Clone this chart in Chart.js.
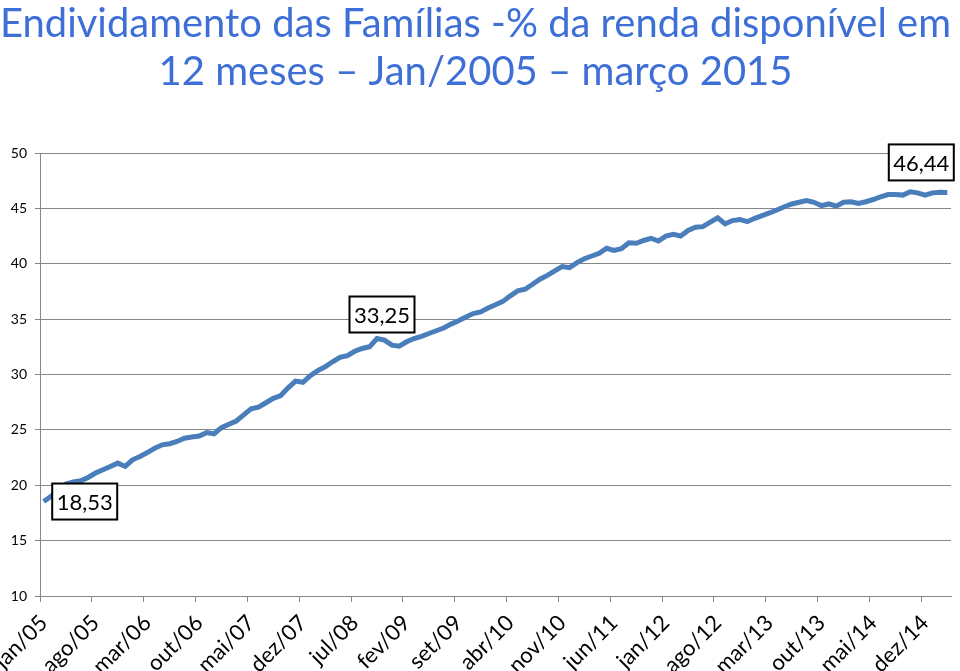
<!DOCTYPE html>
<html>
<head>
<meta charset="utf-8">
<script src="https://cdn.jsdelivr.net/npm/chart.js@4.4.1/dist/chart.umd.min.js"></script>
<style>
  html, body { margin: 0; padding: 0; background: #fff; }
  #wrap { width: 960px; height: 671px; position: relative; }
</style>
</head>
<body>
<div id="wrap"><canvas id="debt-chart"></canvas></div>
<script>
// Month names (pt-BR) and years used to build the monthly categories jan/05 .. mar/15
const monthNames = ['jan', 'fev', 'mar', 'abr', 'mai', 'jun', 'jul', 'ago', 'set', 'out', 'nov', 'dez'];
const years = ['05', '06', '07', '08', '09', '10', '11', '12', '13', '14', '15'];
const lastMonthOf2015 = 3;

// Endividamento (% da renda disponível em 12 meses)
const debtValues = [
  18.53, 19.0, 19.6, 20.1, 20.3, 20.4, 20.7, 21.1, 21.4, 21.7, 22.0, 21.7,
  22.3, 22.6, 22.95, 23.35, 23.65, 23.75, 23.95, 24.25, 24.35, 24.45, 24.75, 24.65,
  25.2, 25.5, 25.8, 26.35, 26.9, 27.05, 27.45, 27.85, 28.1, 28.8, 29.4, 29.3,
  29.9, 30.35, 30.7, 31.15, 31.55, 31.7, 32.1, 32.35, 32.5, 33.25, 33.1, 32.65,
  32.55, 32.95, 33.25, 33.45, 33.7, 33.95, 34.2, 34.55, 34.85, 35.2, 35.5, 35.65,
  36.0, 36.3, 36.6, 37.1, 37.55, 37.7, 38.15, 38.6, 38.95, 39.35, 39.75, 39.65,
  40.1, 40.45, 40.7, 40.95, 41.4, 41.2, 41.35, 41.9, 41.85, 42.1, 42.3, 42.05,
  42.5, 42.65, 42.5, 43.0, 43.3, 43.35, 43.75, 44.15, 43.6, 43.9, 44.0, 43.8,
  44.1, 44.35, 44.6, 44.85, 45.15, 45.4, 45.55, 45.7, 45.55, 45.25, 45.4, 45.2,
  45.55, 45.6, 45.45, 45.6, 45.8, 46.05, 46.25, 46.25, 46.2, 46.5, 46.4, 46.2,
  46.4, 46.45, 46.44
];

// Points that carry a boxed value label
const labelledIndexes = [0, 45, 122];

// y axis ticks
const yMin = 10;
const yMax = 50;
const yStep = 5;

// every 7th month gets a tick label
const labelEvery = 7;

const categories = [];
years.forEach(yy => {
  monthNames.forEach((m, mi) => {
    if (yy === '15' && mi >= lastMonthOf2015) return;
    categories.push(m + '/' + yy);
  });
});

const fontFamily = 'Lato, "Open Sans", sans-serif';

// boxed value labels, offsets of the box centre from the point
const boxOffsets = {
  0: { dx: 41, dy: 0 },
  45: { dx: 5, dy: -24 },
  122: { dx: -26, dy: -30 }
};

const boxLabelPlugin = {
  id: 'boxLabels',
  afterDatasetsDraw(chart) {
    const ctx = chart.ctx;
    const meta = chart.getDatasetMeta(0);
    ctx.save();
    ctx.font = '22px ' + fontFamily;
    ctx.textAlign = 'center';
    ctx.textBaseline = 'middle';
    labelledIndexes.forEach(i => {
      const pt = meta.data[i];
      const off = boxOffsets[i] || { dx: 0, dy: -25 };
      const text = debtValues[i].toFixed(2).replace('.', ',');
      const w = 65, h = 36;
      const cx = pt.x + off.dx, cy = pt.y + off.dy;
      ctx.fillStyle = '#fff';
      ctx.fillRect(cx - w / 2, cy - h / 2, w, h);
      ctx.lineWidth = 2;
      ctx.strokeStyle = '#000';
      ctx.strokeRect(cx - w / 2, cy - h / 2, w, h);
      ctx.fillStyle = '#000';
      ctx.fillText(text, cx, cy + 1);
    });
    ctx.restore();
  }
};

new Chart(document.getElementById('debt-chart'), {
  type: 'line',
  data: {
    labels: categories,
    datasets: [{
      data: debtValues,
      borderColor: '#4a7ebb',
      borderWidth: 5,
      pointRadius: 0,
      tension: 0,
      fill: false
    }]
  },
  options: {
    responsive: true,
    maintainAspectRatio: false,
    animation: false,
    layout: { padding: { top: 0, right: 9, left: 0, bottom: 0 } },
    plugins: {
      legend: { display: false },
      tooltip: { enabled: false },
      title: {
        display: true,
        text: ['Endividamento das Famílias -% da renda disponível em', '12 meses – Jan/2005 – março 2015'],
        color: '#3d6fd6',
        font: { family: fontFamily, size: 40, weight: 'normal', lineHeight: 1.2 },
        padding: { top: 0, bottom: 57 }
      }
    },
    scales: {
      x: {
        type: 'category',
        offset: true,
        grid: {
          offset: true,
          drawOnChartArea: false,
          drawTicks: true,
          tickLength: 6,
          color: c => (c.index % labelEvery === 0 ? '#868686' : 'rgba(0,0,0,0)')
        },
        border: { color: '#868686', width: 1 },
        ticks: {
          autoSkip: false,
          minRotation: 45,
          maxRotation: 45,
          padding: 8,
          color: '#000',
          font: { family: fontFamily, size: 22 },
          callback: function (v, i) {
            return i % labelEvery === 0 ? this.getLabelForValue(v) : '';
          }
        },
        afterFit(scale) {
          scale.height = 75;
          scale.paddingLeft = 0;
          scale.paddingRight = 0;
        }
      },
      y: {
        min: yMin,
        max: yMax,
        ticks: {
          stepSize: yStep,
          color: '#000',
          padding: 8,
          font: { family: fontFamily, size: 14 }
        },
        grid: { color: '#868686', lineWidth: 1, tickLength: 5 },
        border: { color: '#868686', width: 1 },
        afterFit(scale) {
          scale.width = 40;
          scale.paddingTop = 0;
          scale.paddingBottom = 0;
        }
      }
    }
  },
  plugins: [boxLabelPlugin]
});
</script>
</body>
</html>
